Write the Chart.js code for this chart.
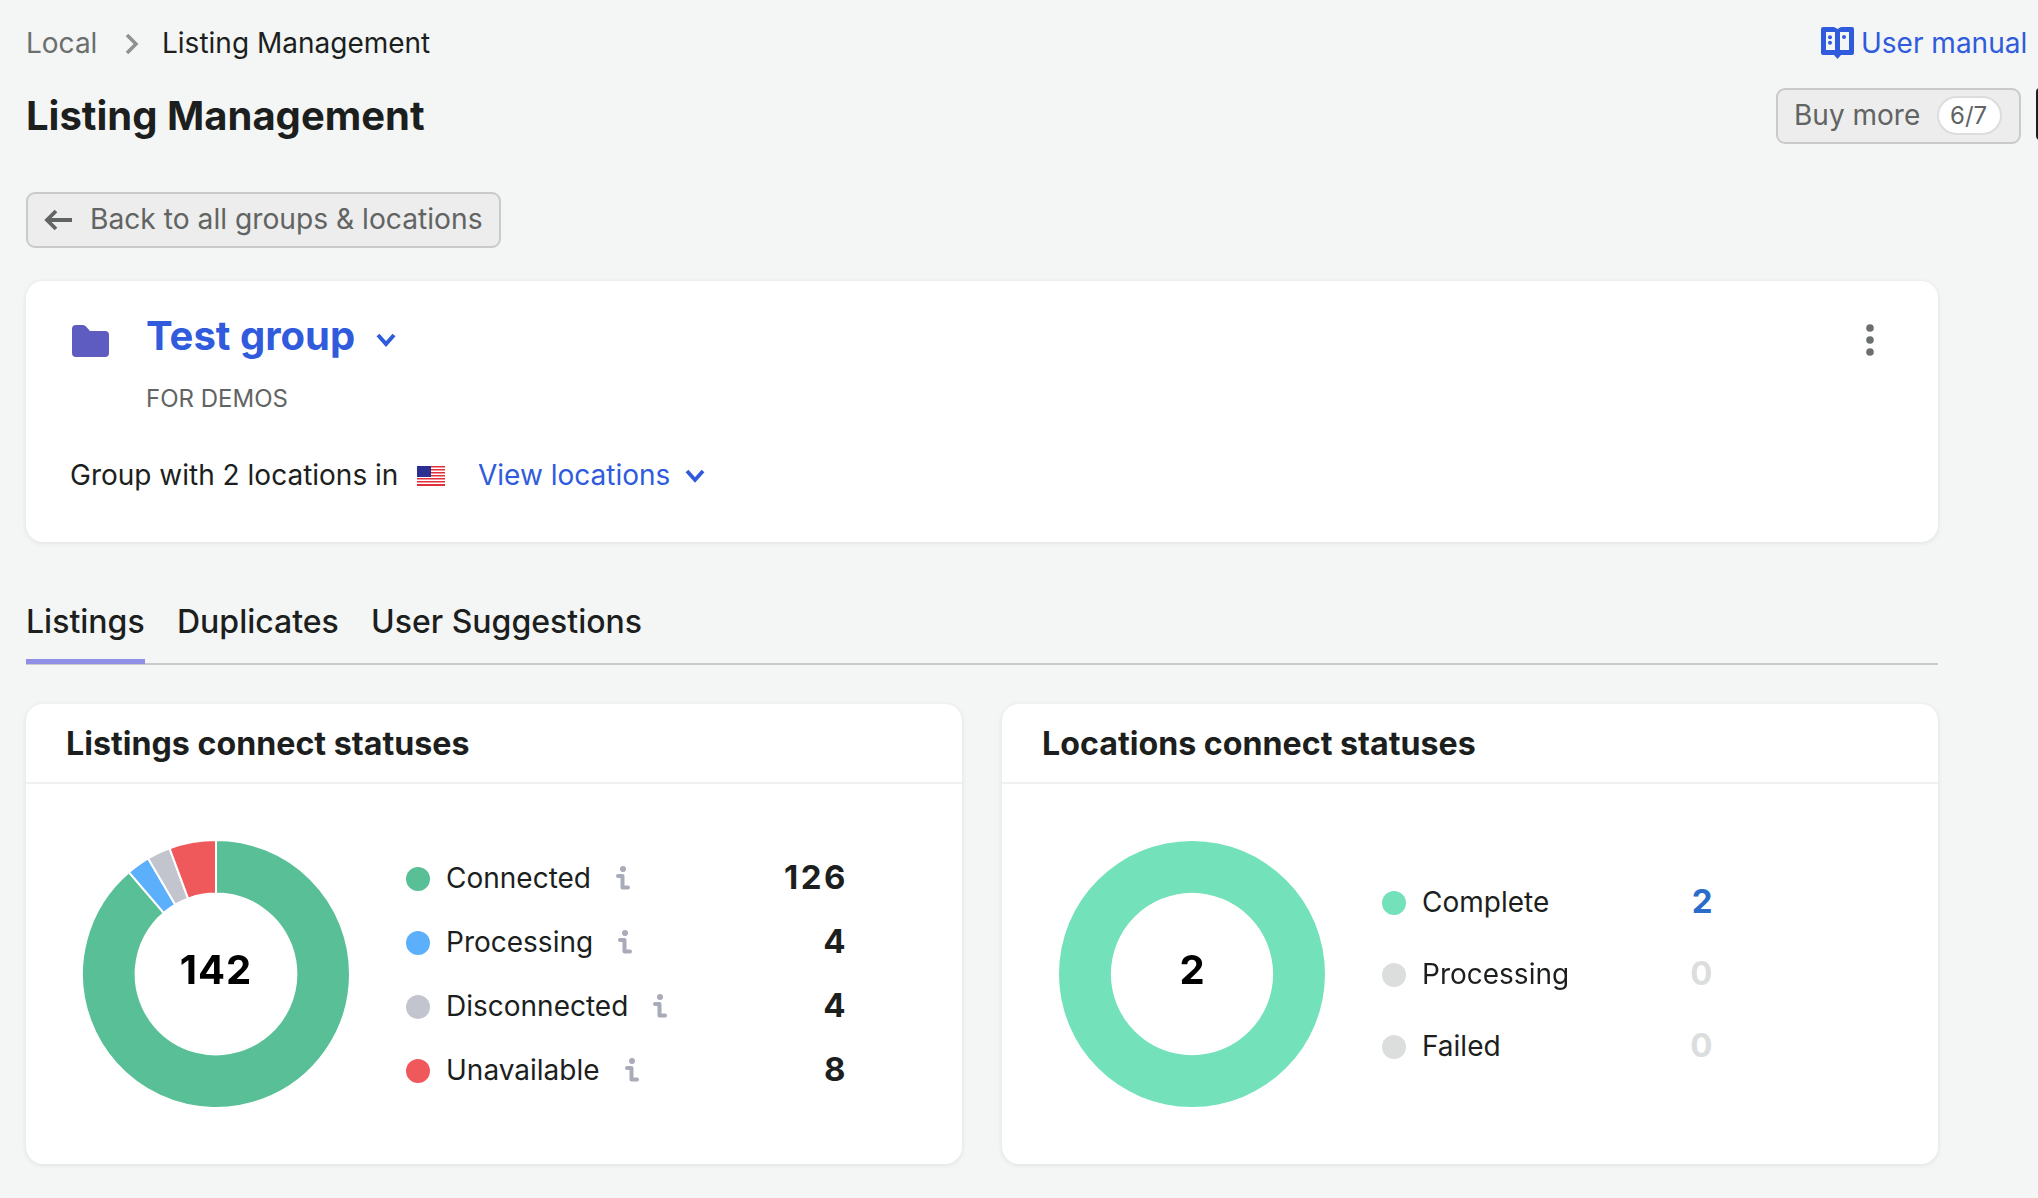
<!DOCTYPE html>
<html>
<head>
<meta charset="utf-8">
<title>Listing Management</title>
<script src="https://cdn.jsdelivr.net/npm/chart.js@4"></script>
<style>
    html, body { margin: 0; padding: 0; }
    body { width: 2038px; height: 1198px; background: #f4f6f5; font-family: Inter, sans-serif; color: #1c1f1e; overflow: hidden; position: relative; }
    .abs { position: absolute; white-space: nowrap; }
    .txt { position: absolute; white-space: nowrap; transform: translateY(-50%); line-height: 1.2; }
    .card { position: absolute; background: #fff; border-radius: 17px; box-shadow: 0 1px 5px rgba(30, 40, 40, 0.1); }
    .btn { position: absolute; box-sizing: border-box; background: #ecedec; border: 2px solid #c9cbca; border-radius: 9px; }
    .blue { color: #2f5bdc; }
    .divider { position: absolute; height: 2px; background: #eff0f0; }
    .dot { position: absolute; width: 24px; height: 24px; border-radius: 50%; transform: translateY(-50%); }
    .info { position: absolute; }
    canvas { position: absolute; }
</style>
</head>
<body>
    <div class="txt" style="left:26px;top:44px;font-size:28px;color:#6b6f6e">Local</div>
    <svg class="abs" style="left:124px;top:33px" width="16" height="22" viewBox="0 0 16 22"><path d="M3 2l9 9-9 9" fill="none" stroke="#8e9191" stroke-width="3.500"/></svg>
    <div class="txt" style="left:162px;top:44px;font-size:28px">Listing Management</div>
    <div class="txt" style="left:26px;top:116px;font-size:40px;font-weight:700">Listing Management</div>

    <svg class="abs" style="left:1821px;top:27px" width="33" height="33" viewBox="0 0 33 33"><path d="M2 0h11l3.500 2L20 0h11a2 2 0 0 1 2 2v24a2 2 0 0 1-2 2H20l-3.500 4-3.500-4H2a2 2 0 0 1-2-2V2a2 2 0 0 1 2-2z" fill="#2f5bdc"/><path d="M5 5h9v18H5zM19 5h9v18h-9z" fill="#f4f6f5"/><circle cx="9" cy="10.300" r="2" fill="#2f5bdc"/><circle cx="9" cy="15.700" r="2" fill="#2f5bdc"/><circle cx="23" cy="10" r="2" fill="#2f5bdc"/></svg>
    <div class="txt blue" style="left:1861px;top:44px;font-size:28px">User manual</div>

    <div class="btn" style="left:1776px;top:88px;width:245px;height:56px"></div>
    <div class="txt" style="left:1794px;top:116px;font-size:28px;color:#616463">Buy more</div>
    <div class="abs" style="left:1937px;top:96px;width:65px;height:39px;box-sizing:border-box;background:#fff;border:2px solid #dcdddd;border-radius:20px"></div>
    <div class="txt" style="left:1950px;top:116px;font-size:24px;color:#616463">6/7</div>
    <div class="abs" style="left:2036px;top:88px;width:8px;height:52px;box-sizing:border-box;border:2px solid #1c1f1e;border-radius:8px"></div>

    <div class="btn" style="left:26px;top:192px;width:475px;height:56px"></div>
    <svg class="abs" style="left:43px;top:208px" width="30" height="24" viewBox="0 0 30 24"><path d="M13 3l-9 9 9 9M4 12h25" fill="none" stroke="#616463" stroke-width="3.800"/></svg>
    <div class="txt" style="left:90px;top:220px;font-size:28.200px;color:#616463">Back to all groups &amp; locations</div>

    <div class="card" style="left:26px;top:281px;width:1912px;height:261px"></div>
    <svg class="abs" style="left:72px;top:325px" width="37" height="32" viewBox="0 0 37 32"><path d="M0 4a4 4 0 0 1 4-4h7a4 4 0 0 1 3 1.500L18 6h15a4 4 0 0 1 4 4v18a4 4 0 0 1-4 4H4a4 4 0 0 1-4-4z" fill="#5e5cc0"/></svg>
    <div class="txt blue" style="left:146px;top:336px;font-size:40px;font-weight:700">Test group</div>
    <svg class="abs" style="left:375px;top:332px" width="22" height="16" viewBox="0 0 22 16"><path d="M3 3l8 9 8-9" fill="none" stroke="#2f5bdc" stroke-width="4"/></svg>
    <div class="txt" style="left:146px;top:399px;font-size:24px;color:#616463">FOR DEMOS</div>
    <div class="txt" style="left:70px;top:476px;font-size:28px">Group with 2 locations in</div>
    <svg class="abs" style="left:417px;top:466px" width="28" height="20" viewBox="0 0 28 20">
        <rect width="28" height="20" fill="#fff"/>
        <path d="M0 0h28v1.500H0zM0 3h28v1.500H0zM0 6h28v1.500H0zM0 9h28v1.500H0zM0 12h28v1.500H0zM0 15h28v1.500H0zM0 18h28v2H0z" fill="#e0303a"/>
        <rect width="14" height="11" fill="#2c2f8f"/>
    </svg>
    <div class="txt blue" style="left:478px;top:476px;font-size:28px">View locations</div>
    <svg class="abs" style="left:684px;top:468px" width="22" height="16" viewBox="0 0 22 16"><path d="M3 3l8 9 8-9" fill="none" stroke="#2f5bdc" stroke-width="3.800"/></svg>
    <svg class="abs" style="left:1864px;top:322px" width="12" height="36" viewBox="0 0 12 36"><circle cx="6" cy="6" r="3.800" fill="#6b6f6e"/><circle cx="6" cy="18" r="3.800" fill="#6b6f6e"/><circle cx="6" cy="30" r="3.800" fill="#6b6f6e"/></svg>

    <div class="txt" style="left:26px;top:622px;font-size:32px;font-weight:500">Listings</div>
    <div class="txt" style="left:177px;top:622px;font-size:32px;font-weight:500">Duplicates</div>
    <div class="txt" style="left:371px;top:622px;font-size:32px;font-weight:500">User Suggestions</div>
    <div class="abs" style="left:26px;top:663px;width:1912px;height:2px;background:#c8cacb"></div>
    <div class="abs" style="left:26px;top:659px;width:119px;height:5px;background:#8f8fe6"></div>

    <div class="card" style="left:26px;top:704px;width:936px;height:460px"></div>
    <div class="divider" style="left:26px;top:782px;width:936px"></div>
    <div class="txt" style="left:66px;top:744px;font-size:32.200px;font-weight:700">Listings connect statuses</div>
    <canvas id="listingsChart" style="left:81px;top:839px"></canvas>
    <div class="txt" style="left:216px;top:970px;transform:translate(-50%,-50%);font-size:40px;font-weight:700;letter-spacing:1px;color:#000">142</div>

    <div class="card" style="left:1002px;top:704px;width:936px;height:460px"></div>
    <div class="divider" style="left:1002px;top:782px;width:936px"></div>
    <div class="txt" style="left:1042px;top:744px;font-size:32.200px;font-weight:700">Locations connect statuses</div>
    <canvas id="locationsChart" style="left:1059px;top:841px"></canvas>
    <div class="txt" style="left:1192px;top:970px;transform:translate(-50%,-50%);font-size:40px;font-weight:700;color:#000">2</div>

<script>
const listingCategories = ['Connected', 'Processing', 'Disconnected', 'Unavailable'];
const listingValues = [126, 4, 4, 8];
const listingColors = ['#58bf96', '#5cb0fb', '#c2c5ce', '#ef595c'];

const locationCategories = ['Complete', 'Processing', 'Failed'];
const locationValues = [2, 0, 0];
const locationColors = ['#73e1b9', '#dcdddd', '#dcdddd'];

document.addEventListener("DOMContentLoaded", function () {
    function drawDonut(id, labels, values, colors, size, borderWidth, cutout) {
        const canvas = document.getElementById(id);
        canvas.width = size;
        canvas.height = size;
        canvas.style.width = size + 'px';
        canvas.style.height = size + 'px';
        return new Chart(canvas.getContext("2d"), {
            type: 'doughnut',
            data: {
                labels: labels,
                datasets: [{
                    data: values,
                    backgroundColor: colors,
                    borderColor: '#ffffff',
                    borderWidth: borderWidth
                }]
            },
            options: {
                responsive: false,
                animation: false,
                cutout: cutout,
                plugins: {
                    legend: { display: false },
                    tooltip: { enabled: false }
                }
            }
        });
    }

    function addText(text, style) {
        const el = document.createElement('div');
        el.className = 'txt';
        el.textContent = text;
        Object.assign(el.style, style);
        document.body.appendChild(el);
        return el;
    }

    // Custom legend rows next to the donuts
    function addLegend(labels, values, colors, opts) {
        labels.forEach((label, i) => {
            const y = opts.top + i * opts.pitch;
            const dot = document.createElement('div');
            dot.className = 'dot';
            dot.style.left = (opts.dotX - 12) + 'px';
            dot.style.top = y + 'px';
            dot.style.background = colors[i];
            document.body.appendChild(dot);

            const name = addText(label, { left: opts.textX + 'px', top: y + 'px', fontSize: '28px' });

            if (opts.info) {
                const x = opts.textX + name.offsetWidth + 25;
                const svg = '<svg class="info" style="left:' + x + 'px;top:' + (y - 13) + 'px" width="14" height="25" viewBox="0 0 14 25">'
                    + '<circle cx="7" cy="3" r="3" fill="#a9abb8"/>'
                    + '<path d="M2 10h4.500v11.500H12" fill="none" stroke="#a9abb8" stroke-width="4" stroke-linejoin="round" stroke-linecap="round"/></svg>';
                document.body.insertAdjacentHTML('beforeend', svg);
            }

            addText(String(values[i]), {
                right: (2038 - opts.valueX) + 'px',
                top: (y - 1) + 'px',
                fontSize: '33px',
                fontWeight: '700',
                letterSpacing: '2.5px',
                color: opts.valueColors ? opts.valueColors[i] : '#1c1f1e'
            });
        });
    }

    drawDonut("listingsChart", listingCategories, listingValues, listingColors, 270, 2, '60%');
    drawDonut("locationsChart", locationCategories, locationValues, locationColors, 266, 0, '61%');

    addLegend(listingCategories, listingValues, listingColors, {
        top: 879, pitch: 64, dotX: 418, textX: 446, valueX: 848, info: true
    });
    addLegend(locationCategories, locationValues, locationColors, {
        top: 903, pitch: 72, dotX: 1394, textX: 1422, valueX: 1715, info: false,
        valueColors: ['#2b6ccb', '#dcdddd', '#dcdddd']
    });
});
</script>
</body>
</html>
